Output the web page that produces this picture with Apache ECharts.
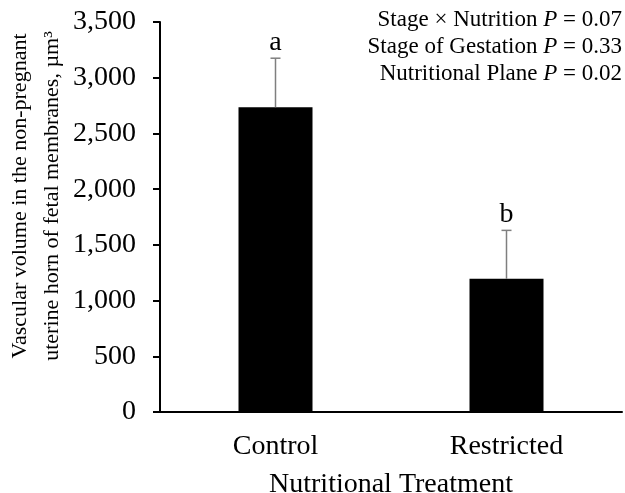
<!DOCTYPE html>
<html>
<head>
<meta charset="utf-8">
<script src="https://cdn.jsdelivr.net/npm/echarts@6/dist/echarts.min.js"></script>
<style>
  html, body { margin: 0; padding: 0; background: #fff; }
  #chart { width: 625px; height: 493px; }
</style>
</head>
<body>
<div id="chart"></div>
<script>
var categories = ['Control', 'Restricted'];
var means = [2735, 1195];
var errors = [440, 435];
var letters = ['a', 'b'];
var statLines = [
    ['Stage × Nutrition', '0.07'],
    ['Stage of Gestation', '0.33'],
    ['Nutritional Plane', '0.02']
];
var yTicks = [0, 500, 1000, 1500, 2000, 2500, 3000, 3500];

var font = 'Liberation Serif';

var errData = [];
for (var i = 0; i < categories.length; i++) {
    errData.push([i, means[i], means[i] + errors[i], letters[i]]);
}

// one right-aligned text per stats line, italic P
var statGraphics = statLines.map(function (l, k) {
    return {
        type: 'text',
        x: 622,
        y: 20 + k * 27,
        style: {
            text: l[0] + ' {i|P} = ' + l[1],
            align: 'right',
            verticalAlign: 'middle',
            fontFamily: font,
            fontSize: 23,
            fill: '#000',
            rich: { i: { fontStyle: 'italic', fontFamily: font, fontSize: 23 } }
        }
    };
});

var chart = echarts.init(document.getElementById('chart'));
var option = {
    animation: false,
    textStyle: { fontFamily: font },
    grid: { left: 160, right: 3, top: 22, bottom: 81, outerBoundsMode: 'none', containLabel: false },
    xAxis: {
        type: 'category',
        data: categories,
        name: 'Nutritional Treatment',
        nameLocation: 'middle',
        nameGap: 59,
        nameMoveOverlap: false,
        nameTextStyle: { fontFamily: font, fontSize: 28, color: '#000' },
        axisLine: { lineStyle: { color: '#000', width: 2 } },
        axisTick: { length: 7, lineStyle: { color: '#000', width: 2 } },
        axisLabel: { fontFamily: font, fontSize: 28, color: '#000', margin: 21 }
    },
    yAxis: {
        type: 'value',
        min: yTicks[0],
        max: yTicks[yTicks.length - 1],
        interval: 500,
        name: 'Vascular volume in the non-pregnant\nuterine horn of fetal membranes, µm³',
        nameLocation: 'middle',
        nameGap: 92,
        nameMoveOverlap: false,
        nameTextStyle: { fontFamily: font, fontSize: 22, color: '#000', lineHeight: 32, padding: [0, 0, 0, 42] },
        axisLine: { show: true, lineStyle: { color: '#000', width: 2 } },
        axisTick: { show: true, length: 7, lineStyle: { color: '#000', width: 2 } },
        splitLine: { show: false },
        axisLabel: {
            fontFamily: font, fontSize: 28, color: '#000', margin: 24,
            formatter: function (v) { return v.toLocaleString('en-US'); }
        }
    },
    graphic: statGraphics,
    series: [{
        type: 'bar',
        data: means,
        barWidth: 74,
        itemStyle: { color: '#000' },
        z: 2
    }, {
        type: 'custom',
        data: errData,
        z: 3,
        renderItem: function (params, api) {
            var base = api.coord([api.value(0), api.value(1)]);
            var top = api.coord([api.value(0), api.value(2)]);
            var cap = 5;
            var st = { stroke: '#7f7f7f', lineWidth: 1.5 };
            return {
                type: 'group',
                children: [
                    { type: 'line', shape: { x1: base[0], y1: base[1], x2: top[0], y2: top[1] }, style: st },
                    { type: 'line', shape: { x1: top[0] - cap, y1: top[1], x2: top[0] + cap, y2: top[1] }, style: st },
                    {
                        type: 'text',
                        x: top[0], y: top[1] - 2,
                        style: {
                            text: errData[params.dataIndex][3],
                            align: 'center', verticalAlign: 'bottom',
                            fontFamily: font, fontSize: 28, fill: '#000'
                        }
                    }
                ]
            };
        }
    }]
};
chart.setOption(option);
</script>
</body>
</html>
